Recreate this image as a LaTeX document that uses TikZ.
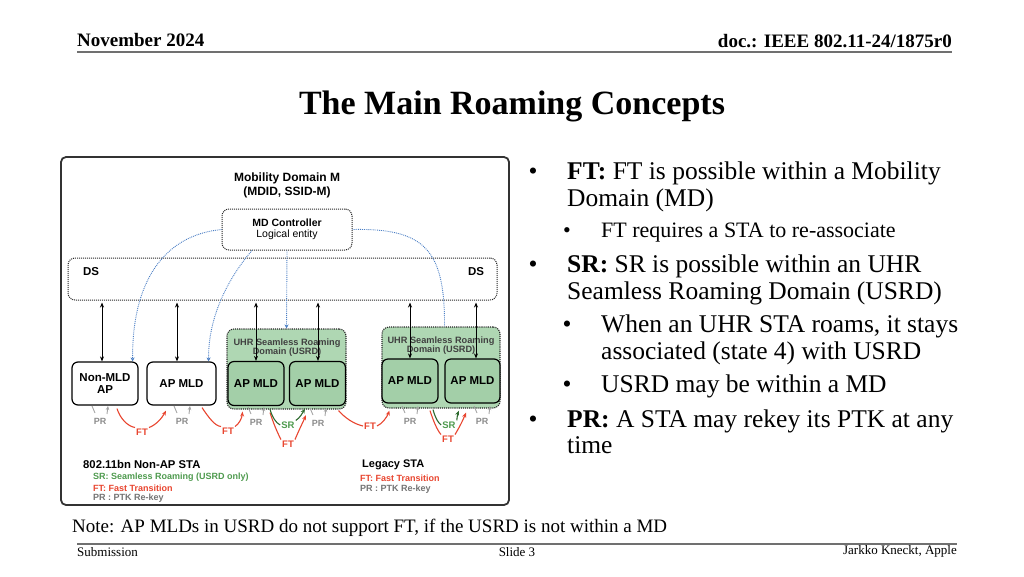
\documentclass[tikz,border=0pt]{standalone}
\usepackage{fontspec}
\setmainfont{Liberation Serif}
\newfontfamily\dsans{Liberation Sans}
\usetikzlibrary{arrows.meta}

\definecolor{ftred}{HTML}{E8452F}
\definecolor{srgreen}{HTML}{4E9A4E}
\definecolor{srdark}{HTML}{2F6B30}
\definecolor{prgray}{HTML}{8C8C8C}
\definecolor{mdblue}{HTML}{4A7EC4}
\definecolor{usrdfill}{HTML}{AFD7B3}
\definecolor{apfill}{HTML}{A3CFA8}
\definecolor{framegray}{HTML}{333333}
\definecolor{rulegray}{HTML}{707070}

\newcommand\fsz[2]{\fontsize{#1}{#2}\selectfont}

\begin{document}
\begin{tikzpicture}[x=1pt,y=-1pt,
  txt/.style={inner sep=0pt},
  apbox/.style={draw=black, line width=1.2pt, rounded corners=6pt, inner sep=0pt, align=center,
    font=\dsans\bfseries\fsz{11.5}{13}},
  dotbox/.style={draw=black!85, densely dotted, line width=1pt, rounded corners=7pt, inner sep=0pt},
  usrdbox/.style={draw=black!85, fill=usrdfill, densely dotted, line width=1.1pt, rounded corners=7pt, inner sep=0pt},
  usrdtext/.style={inner sep=0pt, align=center, text=black!75, font=\dsans\bfseries\fsz{9.2}{9}},
  dbl/.style={{Stealth[length=5pt,width=4pt]}-{Stealth[length=5pt,width=4pt]}, line width=1pt, black},
  mdline/.style={draw=mdblue, densely dotted, line width=0.9pt},
  mdtip/.style={-{Stealth[length=4pt,width=4pt]}},
  prtext/.style={inner sep=1pt, text=prgray, font=\dsans\bfseries\fsz{9}{10}},
  prl/.style={draw=prgray!80, line width=0.9pt},
  ftlab/.style={inner sep=1pt, text=ftred, font=\dsans\bfseries\fsz{9.5}{10}},
  srlab/.style={inner sep=1pt, text=srgreen, font=\dsans\bfseries\fsz{9.5}{10}},
  ftl/.style={draw=ftred, line width=1.1pt},
  srl/.style={draw=srdark, line width=1.1pt},
  tip/.style={-{Stealth[length=5pt,width=4pt]}},
  legend/.style={anchor=west, inner sep=0pt, font=\dsans\bfseries\fsz{9}{10}}
]
\useasboundingbox (0,0) rectangle (1024,576);

% ---------- slide header ----------
\node[txt, anchor=base west, font=\bfseries\fsz{19}{21}] (hdate) at (77,46) {November 2024};
\node[txt, anchor=base east, font=\bfseries\fsz{19}{21}] (hdoc) at (952,47) {doc.: IEEE 802.11-24/1875r0};
\draw[rulegray, line width=1.5pt] (77,52) -- (952,52);

\node[txt, anchor=base, font=\bfseries\fsz{34}{40}] (title) at (512,114) {The Main Roaming Concepts};

% ---------- bullets ----------
\node[txt, anchor=base, font=\fsz{25.5}{27}] (b1) at (533,179) {•};
\node[txt, anchor=base west, font=\fsz{25.5}{27}] (t1a) at (567,179) {\textbf{FT:} FT is possible within a Mobility};
\node[txt, anchor=base west, font=\fsz{25.5}{27}] (t1b) at (567,206) {Domain (MD)};
\node[txt, anchor=base, font=\fsz{22}{24}] (b1s) at (567,237) {•};
\node[txt, anchor=base west, font=\fsz{22}{24}] (t1c) at (601,237) {FT requires a STA to re-associate};
\node[txt, anchor=base, font=\fsz{25.5}{27}] (b2) at (533,272) {•};
\node[txt, anchor=base west, font=\fsz{25.5}{27}] (t2a) at (567,272) {\textbf{SR:} SR is possible within an UHR};
\node[txt, anchor=base west, font=\fsz{25.5}{27}] (t2b) at (567,299) {Seamless Roaming Domain (USRD)};
\node[txt, anchor=base, font=\fsz{25.5}{27}] (b2s) at (567,332) {•};
\node[txt, anchor=base west, font=\fsz{25.5}{27}] (t2c) at (601,332) {When an UHR STA roams, it stays};
\node[txt, anchor=base west, font=\fsz{25.5}{27}] (t2d) at (601,359) {associated (state 4) with USRD};
\node[txt, anchor=base, font=\fsz{25.5}{27}] (b2t) at (567,392) {•};
\node[txt, anchor=base west, font=\fsz{25.5}{27}] (t2e) at (601,392) {USRD may be within a MD};
\node[txt, anchor=base, font=\fsz{25.5}{27}] (b3) at (533,427) {•};
\node[txt, anchor=base west, font=\fsz{25.5}{27}] (t3a) at (567,427) {\textbf{PR:} A STA may rekey its PTK at any};
\node[txt, anchor=base west, font=\fsz{25.5}{27}] (t3b) at (567,453) {time};

% ---------- footer ----------
\node[txt, anchor=base west, font=\fsz{19}{21}] (note) at (72,532) {Note: AP MLDs in USRD do not support FT, if the USRD is not within a MD};
\draw[rulegray, line width=1.5pt] (77,544) -- (957,544);
\node[txt, anchor=base west, font=\fsz{13}{15}] (subm) at (77,556) {Submission};
\node[txt, anchor=base, font=\fsz{13}{15}] (slide) at (517,556) {Slide 3};
\node[txt, anchor=base east, font=\fsz{13}{15}] (auth) at (957,554) {Jarkko Kneckt, Apple};

% ---------- diagram ----------
\draw[framegray, line width=1.8pt, rounded corners=5pt] (61,157) rectangle (509,505);

\node[txt, align=center, font=\dsans\bfseries\fsz{12}{14}] (mdtitle) at (287,185) {Mobility Domain M\\(MDID, SSID-M)};

\node[dotbox, minimum width=130pt, minimum height=41pt, align=center, font=\dsans\fsz{10.5}{11}] (mdc) at (287,229.5)
  {{\bfseries MD Controller}\\Logical entity};

\node[dotbox, minimum width=429pt, minimum height=42pt] (ds) at (282.5,279) {};
\node[txt, font=\dsans\bfseries\fsz{11.5}{13}] (dsl) at (91,272) {DS};
\node[txt, font=\dsans\bfseries\fsz{11.5}{13}] (dsr) at (476,272) {DS};

% USRD groups
\node[usrdbox, minimum width=119pt, minimum height=80pt] (usrd1) at (286.5,369) {};
\node[usrdbox, minimum width=118pt, minimum height=81pt] (usrd2) at (441,367.5) {};
\node[usrdtext] (usrd1t) at (287,347.5) {UHR Seamless Roaming\\Domain (USRD)};
\node[usrdtext] (usrd2t) at (441,346) {UHR Seamless Roaming\\Domain (USRD)};

% AP boxes
\node[apbox, fill=white, minimum width=66pt, minimum height=43pt] (nonmld) at (105,383.5) {Non-MLD\\[-1pt]AP};
\node[apbox, fill=white, minimum width=69pt, minimum height=43pt] (apmld1) at (181.5,383.5) {AP MLD};
\node[apbox, fill=apfill, minimum width=56pt, minimum height=44pt] (ap2) at (256,383.5) {AP MLD};
\node[apbox, fill=apfill, minimum width=56pt, minimum height=44pt] (ap3) at (317.5,383.5) {AP MLD};
\node[apbox, fill=apfill, minimum width=56pt, minimum height=44pt] (ap4) at (410,381) {AP MLD};
\node[apbox, fill=apfill, minimum width=55pt, minimum height=44pt] (ap5) at (472.5,381) {AP MLD};

% blue dotted links from MD controller
\draw[mdline, mdtip] (mdc.west) .. controls (165,235) and (132,280) .. ([xshift=-6pt]nonmld.north east);
\draw[mdline, mdtip] ([xshift=-35pt]mdc.south) .. controls (235,270) and (208,310) .. ([xshift=-8pt]apmld1.north east);
\draw[mdline, mdtip] (mdc.south) -- (usrd1.north);
\draw[mdline] (mdc.east) .. controls (425,228) and (445,250) .. ([xshift=3.5pt]usrd2.north);

% DS links
\coordinate (d1) at (102,302.5);
\coordinate (d2) at (177,302.5);
\coordinate (d3) at (256,302.5);
\coordinate (d4) at (318,302.5);
\coordinate (d5) at (410,302.5);
\coordinate (d6) at (476,302.5);
\draw[dbl] (d1) -- (d1 |- nonmld.north);
\draw[dbl] (d2) -- (d2 |- apmld1.north);
\draw[dbl] (d3) -- (d3 |- ap2.north);
\draw[dbl] (d4) -- (d4 |- ap3.north);
\draw[dbl] (d5) -- (d5 |- ap4.north);
\draw[dbl] (d6) -- (d6 |- ap5.north);

% PR labels and ticks
\node[prtext] (pr1) at (100,421) {PR};
\node[prtext] (pr2) at (182,421) {PR};
\node[prtext] (pr3) at (256,422) {PR};
\node[prtext] (pr4) at (318,423) {PR};
\node[prtext] (pr5) at (410,421) {PR};
\node[prtext] (pr6) at (482,421) {PR};
\foreach \p in {pr1,pr2,pr3,pr4,pr5,pr6} {
  \draw[prl] ([shift={(-8,-15)}]\p.center) -- ([shift={(-5,-8)}]\p.center);
  \draw[prl, -{Stealth[length=4pt,width=3.5pt]}] ([shift={(7,-7)}]\p.center) -- ([shift={(8,-15)}]\p.center);
}

% FT / SR labels
\node[ftlab] (ft1) at (142,432) {FT};
\node[ftlab] (ft2) at (228,431) {FT};
\node[ftlab] (ft3) at (288,444) {FT};
\node[ftlab] (ft4) at (370,426) {FT};
\node[ftlab] (ft5) at (448,439) {FT};
\node[srlab] (sr1) at (288,425) {SR};
\node[srlab] (sr2) at (449,425) {SR};

% FT arcs
\draw[ftl] ([shift={(12,3)}]nonmld.south) .. controls (120,418) and (127,426) .. (ft1.north west);
\draw[ftl, tip] (ft1.north east) .. controls (156,425) and (162,418) .. ([shift={(-15.5,5)}]apmld1.south);
\draw[ftl] ([shift={(20.5,2)}]apmld1.south) .. controls (209,418) and (215,426) .. (ft2.north west);
\draw[ftl, tip] (ft2.north east) .. controls (239,424) and (242,418) .. ([shift={(16,2)}]usrd1.south west);
\draw[ftl] ([shift={(14,6.5)}]ap2.south) .. controls (273,422) and (277,432) .. (ft3.north west);
\draw[ftl, tip] (ft3.north east) .. controls (299,430) and (303,422) .. ([shift={(-11.5,9)}]ap3.south);
\draw[ftl] ([shift={(-8,1)}]usrd1.south east) .. controls (345,418) and (354,424) .. (ft4.west);
\draw[ftl, tip] (ft4.east) .. controls (382,424) and (387,417) .. ([shift={(8,2)}]usrd2.south west);
\draw[ftl] ([shift={(20,7)}]ap4.south) .. controls (433,420) and (437,430) .. (ft5.north west);
\draw[ftl, tip] (ft5.north east) .. controls (459,428) and (463,420) .. ([shift={(-6.5,9)}]ap5.south);

% SR arcs
\draw[srl] ([shift={(14,3)}]ap2.south) .. controls (272,417) and (276,423) .. (sr1.west);
\draw[srl, tip] (sr1.north east) .. controls (300,418) and (303,412) .. ([shift={(-12.5,2.5)}]ap3.south);
\draw[srl] ([shift={(23,6)}]ap4.south) .. controls (435,417) and (438,423) .. (sr2.west);
\draw[srl, tip] (sr2.north east) .. controls (457,417) and (458,413) .. ([shift={(-13.5,7)}]ap5.south);

% legends
\node[legend, font=\dsans\bfseries\fsz{11.3}{13}] (leg1) at (83,464) {802.11bn Non-AP STA};
\node[legend, text=srgreen] (leg1a) at (93,477) {SR: Seamless Roaming (USRD only)};
\node[legend, text=ftred] (leg1b) at (93,488) {FT: Fast Transition};
\node[legend, text=black!55] (leg1c) at (93,498) {PR : PTK Re-key};
\node[legend, font=\dsans\bfseries\fsz{11}{13}] (leg2) at (362,465) {Legacy STA};
\node[legend, text=ftred] (leg2a) at (360,478) {FT: Fast Transition};
\node[legend, text=black!55] (leg2b) at (360,489) {PR : PTK Re-key};
\end{tikzpicture}
\end{document}
